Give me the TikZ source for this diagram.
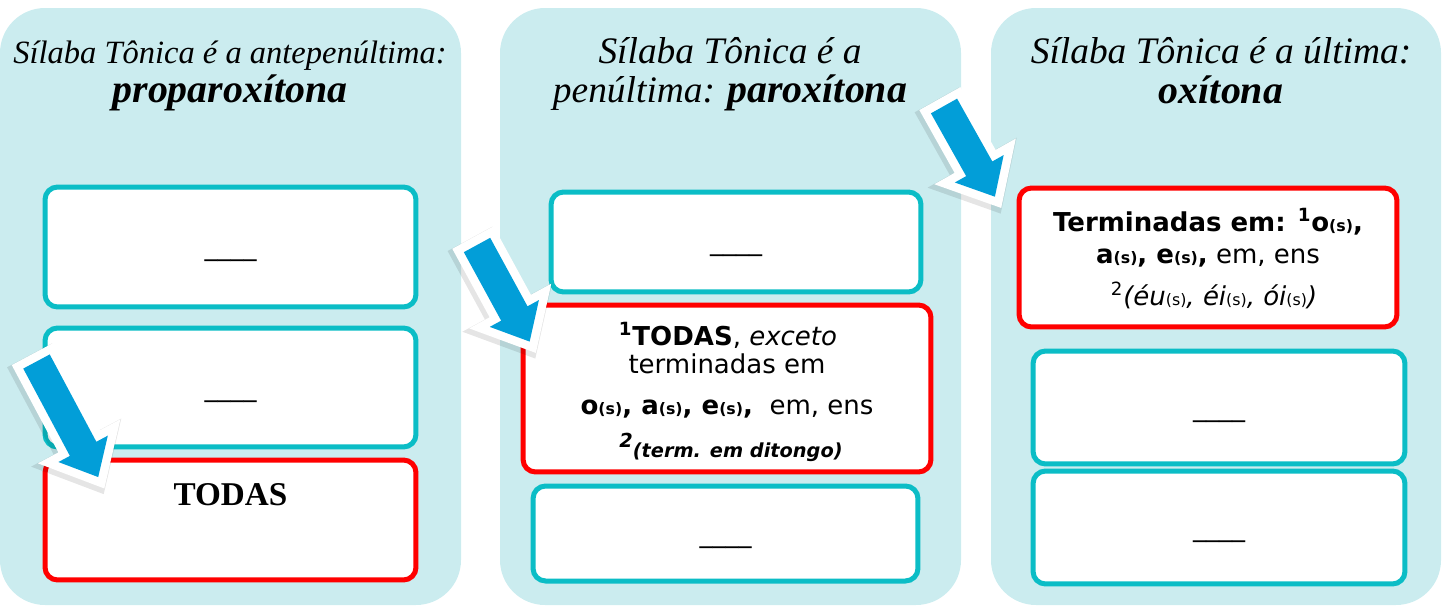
\documentclass[tikz,border=0pt]{standalone}
\usepackage{fontspec}
\setmainfont{Liberation Serif}
\setsansfont{DejaVu Sans}
\usetikzlibrary{positioning}
\definecolor{mcyan}{RGB}{203,236,239}
\definecolor{mteal}{RGB}{11,189,198}
\definecolor{mred}{RGB}{255,0,0}
\definecolor{mblue}{RGB}{2,158,216}
\tikzset{panel/.style = {fill=mcyan, rounded corners=0.9cm}}
\tikzset{slot/.style = {draw=mteal, fill=white, line width=0.1cm, rounded corners=0.25cm, inner sep=0}}
\tikzset{hit/.style = {slot, draw=mred}}
\tikzset{head/.style = {font=\fontsize{21.3}{24}\selectfont\itshape, anchor=base, inner sep=0}}
\tikzset{headb/.style = {font=\fontsize{22.7}{26}\selectfont\bfseries\itshape, anchor=base, inner sep=0}}
\tikzset{txt/.style = {font=\sffamily\fontsize{14.8}{18}\selectfont, anchor=base, inner sep=0}}
\newcommand{\sx}{{\fontsize{9}{9}\selectfont(s)}}
\newcommand{\arrowshape}[1]{(0,-15) -- ({#1-32},-15) -- ({#1-32},-28) -- (#1,0) -- ({#1-32},28) -- ({#1-32},15) -- (0,15) -- cycle}
\newcommand{\blockarrow}[4]{%
  \begin{scope}[shift={(#1-2,#2+3)}, rotate=#3, transparency group, opacity=0.1]
    \filldraw [black, line width=0.42cm, line join=miter] \arrowshape{#4};
  \end{scope}
  \begin{scope}[shift={(#1,#2)}, rotate=#3]
    \filldraw [white, line width=0.34cm, line join=miter] \arrowshape{#4};
    \fill [mblue] \arrowshape{#4};
  \end{scope}}

\begin{document}
\begin{tikzpicture}[x=0.02cm, y=-0.02cm]
  \useasboundingbox (0,0) rectangle (1442,605);

  \fill [panel] (0,8) rectangle (461,605);
  \fill [panel] (500,8) rectangle (961,605);
  \fill [panel] (991,8) rectangle (1441,605);

  \node [head, font=\fontsize{18.5}{22}\selectfont\itshape] (t1a) at (230,63) {Sílaba Tônica é a antepenúltima:};
  \node [headb] (t1b) at (230,102) {proparoxítona};
  \node [head] (t2a) at (730,63) {Sílaba Tônica é a};
  \node [head] (t2b) at (730,102) {penúltima: {\fontsize{22.7}{26}\selectfont\bfseries paroxítona}};
  \node [head] (t3a) at (1221,63) {Sílaba Tônica é a última:};
  \node [headb] (t3b) at (1221,103) {oxítona};

  \node [slot, minimum width=7.42cm, minimum height=2.4cm] (a1) at (230.5,247) {};
  \node [slot, minimum width=7.42cm, minimum height=2.38cm] (a2) at (230.5,387.5) {};
  \node [hit, minimum width=7.42cm, minimum height=2.4cm] (a3) at (230.5,520) {};
  \node [anchor=base, inner sep=0, font=\fontsize{18.9}{22}\selectfont\bfseries] (a3t) at ([yshift=0.3cm]a3.center) {TODAS};

  \node [slot, minimum width=7.4cm, minimum height=2cm] (b1) at (736,242) {};
  \node [hit, minimum width=8.16cm, minimum height=3.34cm] (b2) at (727,388.5) {};
  \node [slot, minimum width=7.7cm, minimum height=1.9cm] (b3) at (725.5,533.5) {};
  \node [txt] (b2a) at (728,345) {\textbf{\textsuperscript{1}TODAS}, \textit{exceto}};
  \node [txt] (b2b) at (727,373) {terminadas em};
  \node [txt] (b2c) at (727,414) {\textbf{o\sx, a\sx, e\sx,}\ \ em, ens};
  \node [txt, font=\sffamily\bfseries\itshape\fontsize{11}{13}\selectfont] (b2d) at (731,457) {\raisebox{0.5em}{\fontsize{11}{11}\selectfont 2}(term. em ditongo)};

  \node [hit, minimum width=7.56cm, minimum height=2.78cm] (c1) at (1208,257.5) {};
  \node [slot, minimum width=7.44cm, minimum height=2.26cm] (c2) at (1219,407.5) {};
  \node [slot, minimum width=7.44cm, minimum height=2.26cm] (c3) at (1219,527.5) {};
  \node [txt] (c1a) at (1208,231) {\textbf{Terminadas em: \textsuperscript{1}o\sx,}};
  \node [txt] (c1b) at (1208,263) {\textbf{a\sx, e\sx,} em, ens};
  \node [txt] (c1c) at (1214,305) {\textsuperscript{2}\textit{(éu\textup{\sx}, éi\textup{\sx}, ói\textup{\sx})}};

  \foreach \b in {a1,a2,b1,b3,c2,c3}
    \node [txt] (\b-l) at ([yshift=-0.17cm]\b.center) {\_\_\_\_};

  \blockarrow{36.5}{361.5}{-61.9}{131}
  \blockarrow{477}{245}{-61.4}{110}
  \blockarrow{944}{106}{-60.7}{104}
\end{tikzpicture}
\end{document}
